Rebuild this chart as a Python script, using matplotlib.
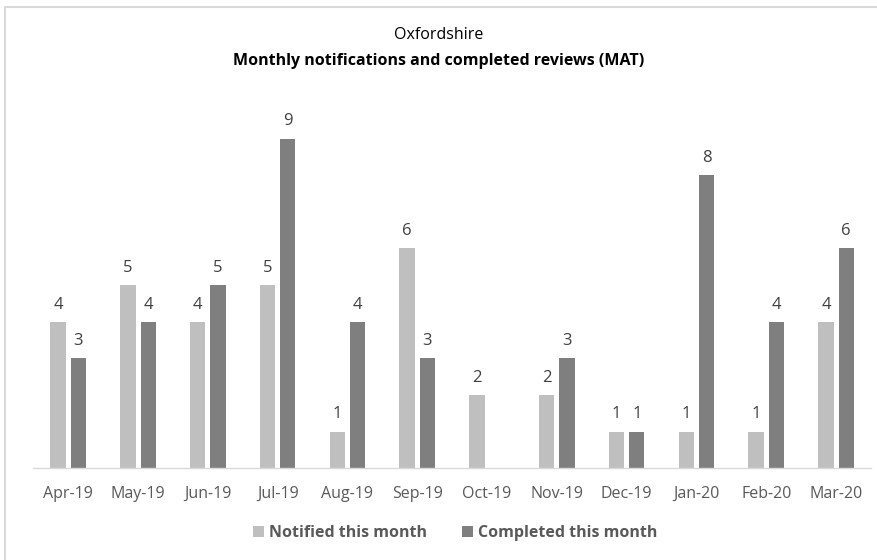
import numpy as np
import matplotlib.pyplot as plt
from matplotlib.patches import Rectangle

plt.rcParams['font.family'] = ['Open Sans', 'DejaVu Sans']

# Datos
meses = ['Apr-19', 'May-19', 'Jun-19', 'Jul-19', 'Aug-19', 'Sep-19',
         'Oct-19', 'Nov-19', 'Dec-19', 'Jan-20', 'Feb-20', 'Mar-20']
notificados = [4, 5, 4, 5, 1, 6, 2, 2, 1, 1, 1, 4]
completados = [3, 4, 5, 9, 4, 3, None, 3, 1, 8, 4, 6]

col_notif = '#BFBFBF'
col_comp = '#7F7F7F'

fig = plt.figure(figsize=(8.78, 5.6), dpi=100)
ax = fig.add_axes([0.038, 0.164, 0.954, 0.654])

x = np.arange(len(meses))
w = 0.22
off = 0.145

comp_vals = [np.nan if v is None else v for v in completados]
b1 = ax.bar(x - off, notificados, w, color=col_notif, label='Notified this month')
b2 = ax.bar(x + off, comp_vals, w, color=col_comp, label='Completed this month')

# Etiquetas de datos
for xi, v in zip(x, notificados):
    ax.text(xi - off, v + 0.25, str(v), ha='center', va='bottom', fontsize=12, color='#404040')
for xi, v in zip(x, completados):
    if v is not None:
        ax.text(xi + off, v + 0.25, str(v), ha='center', va='bottom', fontsize=12, color='#404040')

ax.set_xlim(-0.5, len(meses) - 0.5)
ax.set_ylim(0, 10)
ax.set_xticks(x)
ax.set_xticklabels(meses, fontsize=11.5, color='#595959')
ax.set_yticks([])
ax.tick_params(axis='x', length=0, pad=13)
for s in ['top', 'right', 'left']:
    ax.spines[s].set_visible(False)
ax.spines['bottom'].set_color('#D9D9D9')
ax.spines['bottom'].set_linewidth(1)

# Titulos
fig.text(0.5, 0.937, 'Oxfordshire', ha='center', va='center', fontsize=11.5, color='black')
fig.text(0.5, 0.891, 'Monthly notifications and completed reviews (MAT)', ha='center', va='center',
         fontsize=11.5, fontweight='bold', color='black')

# Leyenda
leg = fig.legend(handles=[b1, b2], loc='center', bbox_to_anchor=(0.518, 0.048), ncol=2,
                 frameon=False, fontsize=11.5, handlelength=0.7, handleheight=0.7,
                 handletextpad=0.3, columnspacing=2.2)
for t in leg.get_texts():
    t.set_color('#595959')
    t.set_fontweight('bold')

# Borde del grafico
fig.patches.append(Rectangle((0.0057, -0.1), 1.2, 1.0875, transform=fig.transFigure,
                             fill=False, edgecolor='#D9D9D9', linewidth=1.5))

plt.savefig('out.png', dpi=100)
